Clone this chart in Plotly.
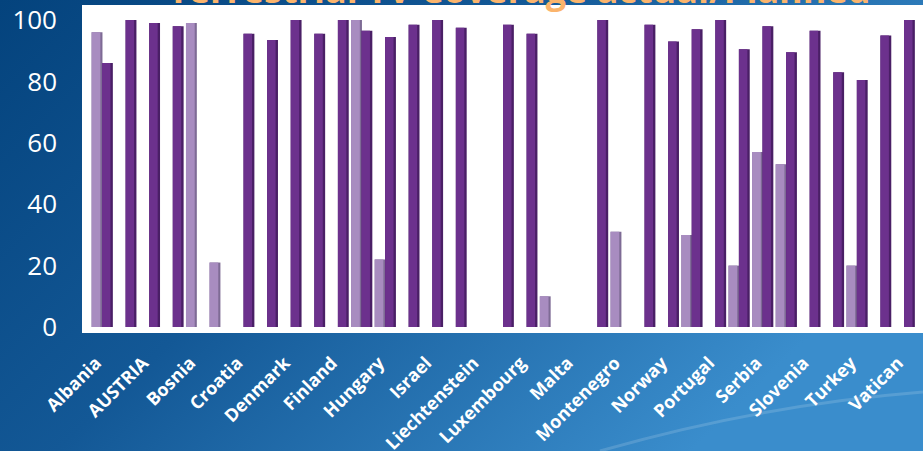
import base64
import plotly.graph_objects as go

categories = ["Albania", "Andorra", "AUSTRIA", "Belgium", "Bosnia", "Bulgaria", "Croatia",
              "Cyprus", "Denmark", "Estonia", "Finland", "Germany", "Hungary", "Ireland",
              "Israel", "Italy", "Liechtenstein", "Lithuania", "Luxembourg", "Macedonia",
              "Malta", "Moldova", "Montenegro", "Netherlands", "Norway", "Poland", "Portugal",
              "Romania", "Serbia", "Slovakia", "Slovenia", "Switzerland", "Turkey", "UK", "Vatican"]
actual = [96, 0, 0, 0, 99, 21, 0, 0, 0, 0, 0, 100, 22, 0, 0, 0, 0, 0, 0, 10, 0, 0, 31, 0, 0,
          30, 0, 20, 57, 53, 0, 0, 20, 0, 0]
planned = [86, 100, 99, 98, 0, 0, 95.5, 93.5, 100, 95.5, 100, 96.5, 94.5, 98.5, 100, 97.5, 0,
           98.5, 95.5, 0, 0, 100, 0, 98.5, 93, 97, 100, 90.5, 98, 89.5, 96.5, 83, 80.5, 95, 100]
tick_labels = categories[::2]
y_ticks = [0, 20, 40, 60, 80, 100]
title_text = "Terrestrial TV Coverage actual/Planned"

W, H = 923, 451
ML, MR, MT, MB = 82, 0, 5, 118

svg = f'''<svg xmlns="http://www.w3.org/2000/svg" width="{W}" height="{H}" viewBox="0 0 {W} {H}" preserveAspectRatio="none">
<defs><linearGradient id="g" x1="0" y1="0" x2="1" y2="0.5">
<stop offset="0" stop-color="#04437D"/><stop offset="0.45" stop-color="#135896"/><stop offset="1" stop-color="#3A8DCC"/>
</linearGradient></defs>
<rect width="{W}" height="{H}" fill="url(#g)"/>
<path d="M600,451 Q760,405 923,392" stroke="#ffffff" stroke-opacity="0.15" stroke-width="3" fill="none"/>
<rect x="{ML}" y="{MT}" width="{W-ML-MR}" height="{H-MT-MB}" fill="#ffffff"/>
</svg>'''
src = "data:image/svg+xml;base64," + base64.b64encode(svg.encode()).decode()

fig = go.Figure()
light_side, light_front = "#7E6B95", "#A88CC0"
dark_side, dark_front = "#4A1F66", "#6C318D"

fig.add_trace(go.Bar(x=categories, y=actual, offset=-0.44, width=0.46,
                     marker=dict(color=light_side, line=dict(width=0)), hoverinfo="skip", showlegend=False))
fig.add_trace(go.Bar(x=categories, y=actual, offset=-0.44, width=0.37, name="actual",
                     marker=dict(color=light_front, line=dict(width=0)), showlegend=False))
fig.add_trace(go.Bar(x=categories, y=planned, offset=0.0, width=0.46,
                     marker=dict(color=dark_side, line=dict(width=0)), hoverinfo="skip", showlegend=False))
fig.add_trace(go.Bar(x=categories, y=planned, offset=0.0, width=0.36, name="planned",
                     marker=dict(color=dark_front, line=dict(width=0)), showlegend=False))

fig.update_layout(
    width=W, height=H,
    margin=dict(l=ML, r=MR, t=MT, b=MB, pad=0, autoexpand=False),
    barmode="overlay",
    paper_bgcolor="#0A4A85",
    plot_bgcolor="rgba(0,0,0,0)",
    images=[dict(source=src, xref="paper", yref="paper",
                 x=-ML / (W - ML - MR), y=1 + MT / (H - MT - MB),
                 sizex=W / (W - ML - MR), sizey=H / (H - MT - MB),
                 xanchor="left", yanchor="top", sizing="stretch", layer="below")],
    xaxis=dict(type="category", range=[-0.848, 34.805], tickmode="array", automargin=False,
               tickvals=tick_labels, ticktext=tick_labels, tickangle=-45,
               tickfont=dict(family="Open Sans", size=18, color="white", weight="bold"),
               showgrid=False, zeroline=False, showline=False, ticks="",
               ticklabelstandoff=15, ticklabelshift=-6),
    yaxis=dict(range=[-1.95, 104.9], tickmode="array", tickvals=y_ticks, automargin=False,
               tickfont=dict(family="Open Sans", size=26, color="white"),
               showgrid=False, zeroline=False, showline=False, ticks="", ticklabelstandoff=24),
    annotations=[dict(text=title_text, xref="paper", yref="paper", x=0.52, y=1,
                      xanchor="center", yanchor="bottom", yshift=-11, showarrow=False,
                      font=dict(family="Open Sans", size=36, color="#FBB46C", weight="bold"))],
)

fig.write_html("out.html", config={"displayModeBar": False},
               post_script="document.body.style.margin='0px';document.body.style.overflow='hidden';")
